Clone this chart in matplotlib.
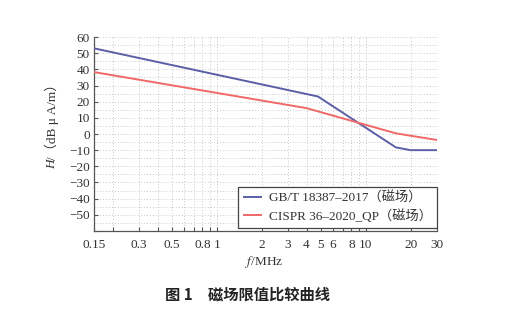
import matplotlib
matplotlib.use("Agg")
import matplotlib.pyplot as plt
from matplotlib.ticker import FixedLocator, NullLocator, NullFormatter

# Magnetic field limit curves, frequency in MHz, level in dBμA/m
freq_gbt = [0.15, 4.77, 15.9, 20, 30]
level_gbt = [53.0, 23.2, -8.3, -10.0, -10.0]

freq_cispr = [0.15, 4.0, 15.9, 30]
level_cispr = [38.3, 16.0, 0.4, -3.7]

series_names = ["GB/T 18387\u20132017（磁场）", "CISPR 36\u20132020_QP（磁场）"]

x_ticks = [0.15, 0.2, 0.3, 0.4, 0.5, 0.6, 0.7, 0.8, 0.9, 1, 2, 3, 4, 5, 6, 7, 8, 9, 10, 20, 30]
x_labels = {0.15: "0.15", 0.3: "0.3", 0.5: "0.5", 0.8: "0.8", 1: "1", 2: "2", 3: "3", 4: "4",
            5: "5", 6: "6", 8: "8", 10: "10", 20: "20", 30: "30"}
y_ticks = list(range(-60, 61, 10))
y_grid = list(range(-60, 61, 5))

serif = ["Liberation Serif", "Noto Sans CJK SC"]
plt.rcParams["font.family"] = serif
plt.rcParams["mathtext.fontset"] = "stix"
plt.rcParams["axes.unicode_minus"] = True

fig = plt.figure(figsize=(5.06, 3.34), dpi=100)
fig.patch.set_facecolor("white")
ax = fig.add_axes([0.1858, 0.3084, 0.6778, 0.5808])

ax.set_xscale("log")
ax.set_xlim(0.15, 30)
ax.set_ylim(-60, 60)

# dotted grid
for x in x_ticks:
    ax.axvline(x, color="#c8c8c8", lw=0.7, ls=(0, (1, 2)), zorder=0)
for y in y_grid:
    ax.axhline(y, color="#c8c8c8", lw=0.7, ls=(0, (1, 2)), zorder=0)

l1, = ax.plot(freq_gbt, level_gbt, color="#5b5fa6", lw=1.4, label=series_names[0], zorder=3)
l2, = ax.plot(freq_cispr, level_cispr, color="#f06868", lw=1.4, label=series_names[1], zorder=3)

ax.xaxis.set_major_locator(FixedLocator(x_ticks))
ax.xaxis.set_minor_locator(NullLocator())
ax.xaxis.set_minor_formatter(NullFormatter())
ax.set_xticklabels([x_labels.get(t, "") for t in x_ticks])
ax.set_yticks(y_ticks)
ax.set_yticklabels(["" if t == -60 else ("\u2212%d" % -t if t < 0 else str(t)) for t in y_ticks])

ax.tick_params(axis="both", direction="in", length=3, width=0.8, color="#555555",
               labelsize=9.5, labelcolor="#333333")
ax.tick_params(axis="x", pad=6)
ax.tick_params(axis="y", pad=3)

for s in ["top", "right"]:
    ax.spines[s].set_visible(False)
for s in ["left", "bottom"]:
    ax.spines[s].set_color("#555555")
    ax.spines[s].set_linewidth(0.9)

leg = ax.legend(handles=[l1, l2], loc="lower right", bbox_to_anchor=(1.0, 0.015),
                borderaxespad=0.0,
                frameon=True, fancybox=False, edgecolor="#444444", framealpha=1,
                handlelength=1.3, handletextpad=0.6, borderpad=0.4, labelspacing=0.3,
                prop={"family": serif, "size": 9.5})
leg.get_frame().set_linewidth(0.9)
for t in leg.get_texts():
    t.set_color("#333333")

# y label: italic H followed by the unit text, rotated
ylab_rest = fig.text(0.103, 0.645, "/（dB μ A/m）", rotation=90, ha="center", va="center",
                     fontsize=9.5, color="#333333", family=serif)
fig.canvas.draw()
bb = ylab_rest.get_window_extent(renderer=fig.canvas.get_renderer())
inv = fig.transFigure.inverted()
y0_fig = inv.transform((0, bb.y0))[1]
fig.text(0.103, y0_fig, "H", rotation=90, ha="center", va="top", fontsize=9.5,
         style="italic", color="#333333", family=serif)

fig.text(0.522, 0.215, r"$f$/MHz", ha="center", va="center", fontsize=9.5,
         color="#333333", family=serif)
fig.text(0.49, 0.117, "图 1　磁场限值比较曲线", ha="center", va="center", fontsize=11,
         fontweight="bold", color="#222222", family=["Noto Sans CJK SC", "DejaVu Sans"])

fig.savefig("out.png", dpi=100, facecolor="white")
